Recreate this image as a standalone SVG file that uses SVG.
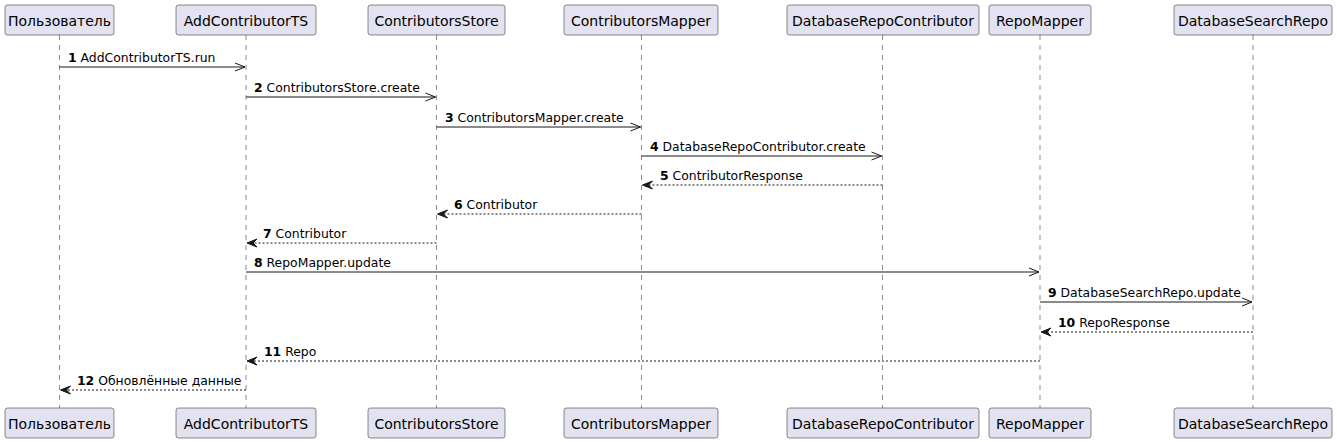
<svg xmlns="http://www.w3.org/2000/svg" width="1337" height="442" viewBox="0 0 1337 442">
<style>
.box{fill:#E2E2F0;stroke:#181818;stroke-width:0.5}
.bt{font-family:"DejaVu Sans","Liberation Sans",sans-serif;font-size:14px;fill:#000;text-anchor:middle}
.life{stroke:#181818;stroke-width:0.5;stroke-dasharray:5,5;fill:none}
.msg{stroke:#181818;stroke-width:1;fill:none}
.ret{stroke:#181818;stroke-width:1;stroke-dasharray:2,2;fill:none}
.ml{font-family:"DejaVu Sans","Liberation Sans",sans-serif;font-size:12.4px;fill:#000}
.num{font-weight:bold}
.oh{stroke:#181818;stroke-width:1;fill:none}
.fh{fill:#181818;stroke:#181818;stroke-width:1}
</style>
<rect width="1337" height="442" fill="#FFFFFF"/>
<g id="lifelines">
<line class="life" x1="59.5" y1="35" x2="59.5" y2="408"/>
<line class="life" x1="246" y1="35" x2="246" y2="408"/>
<line class="life" x1="436.5" y1="35" x2="436.5" y2="408"/>
<line class="life" x1="641.5" y1="35" x2="641.5" y2="408"/>
<line class="life" x1="882.5" y1="35" x2="882.5" y2="408"/>
<line class="life" x1="1040" y1="35" x2="1040" y2="408"/>
<line class="life" x1="1253" y1="35" x2="1253" y2="408"/>
</g>
<g id="p1">
<rect class="box" x="5" y="5" width="109" height="30" rx="2.5"/>
<text class="bt" x="59.5" y="26">Пользователь</text>
<rect class="box" x="5" y="408" width="109" height="30" rx="2.5"/>
<text class="bt" x="59.5" y="429">Пользователь</text>
</g>
<g id="p2">
<rect class="box" x="176" y="5" width="140" height="30" rx="2.5"/>
<text class="bt" x="246" y="26">AddContributorTS</text>
<rect class="box" x="176" y="408" width="140" height="30" rx="2.5"/>
<text class="bt" x="246" y="429">AddContributorTS</text>
</g>
<g id="p3">
<rect class="box" x="368" y="5" width="137" height="30" rx="2.5"/>
<text class="bt" x="436.5" y="26">ContributorsStore</text>
<rect class="box" x="368" y="408" width="137" height="30" rx="2.5"/>
<text class="bt" x="436.5" y="429">ContributorsStore</text>
</g>
<g id="p4">
<rect class="box" x="564" y="5" width="154" height="30" rx="2.5"/>
<text class="bt" x="641" y="26">ContributorsMapper</text>
<rect class="box" x="564" y="408" width="154" height="30" rx="2.5"/>
<text class="bt" x="641" y="429">ContributorsMapper</text>
</g>
<g id="p5">
<rect class="box" x="787" y="5" width="192" height="30" rx="2.5"/>
<text class="bt" x="883" y="26">DatabaseRepoContributor</text>
<rect class="box" x="787" y="408" width="192" height="30" rx="2.5"/>
<text class="bt" x="883" y="429">DatabaseRepoContributor</text>
</g>
<g id="p6">
<rect class="box" x="989" y="5" width="102" height="30" rx="2.5"/>
<text class="bt" x="1040" y="26">RepoMapper</text>
<rect class="box" x="989" y="408" width="102" height="30" rx="2.5"/>
<text class="bt" x="1040" y="429">RepoMapper</text>
</g>
<g id="p7">
<rect class="box" x="1174" y="5" width="158" height="30" rx="2.5"/>
<text class="bt" x="1253" y="26">DatabaseSearchRepo</text>
<rect class="box" x="1174" y="408" width="158" height="30" rx="2.5"/>
<text class="bt" x="1253" y="429">DatabaseSearchRepo</text>
</g>
<g id="connectors">
<line class="msg" x1="59.5" y1="67" x2="245" y2="67"/>
<polyline class="oh" points="235,63 245,67 235,71"/>
<text class="ml" x="68" y="62"><tspan class="num">1</tspan> AddContributorTS.run</text>
<line class="msg" x1="246" y1="97" x2="435.5" y2="97"/>
<polyline class="oh" points="425.5,93 435.5,97 425.5,101"/>
<text class="ml" x="254" y="92"><tspan class="num">2</tspan> ContributorsStore.create</text>
<line class="msg" x1="436.5" y1="127" x2="640.5" y2="127"/>
<polyline class="oh" points="630.5,123 640.5,127 630.5,131"/>
<text class="ml" x="445" y="122"><tspan class="num">3</tspan> ContributorsMapper.create</text>
<line class="msg" x1="641.5" y1="156" x2="881.5" y2="156"/>
<polyline class="oh" points="871.5,152 881.5,156 871.5,160"/>
<text class="ml" x="650" y="151"><tspan class="num">4</tspan> DatabaseRepoContributor.create</text>
<line class="ret" x1="882.5" y1="185" x2="643" y2="185"/>
<polygon class="fh" points="642.5,185 652.5,181 648.5,185 652.5,189"/>
<text class="ml" x="660" y="180"><tspan class="num">5</tspan> ContributorResponse</text>
<line class="ret" x1="641.5" y1="214" x2="438" y2="214"/>
<polygon class="fh" points="437.5,214 447.5,210 443.5,214 447.5,218"/>
<text class="ml" x="454" y="209"><tspan class="num">6</tspan> Contributor</text>
<line class="ret" x1="436.5" y1="243" x2="247.5" y2="243"/>
<polygon class="fh" points="247,243 257,239 253,243 257,247"/>
<text class="ml" x="263" y="238"><tspan class="num">7</tspan> Contributor</text>
<line class="msg" x1="246" y1="272" x2="1039" y2="272"/>
<polyline class="oh" points="1029,268 1039,272 1029,276"/>
<text class="ml" x="254" y="267"><tspan class="num">8</tspan> RepoMapper.update</text>
<line class="msg" x1="1040" y1="302" x2="1252" y2="302"/>
<polyline class="oh" points="1242,298 1252,302 1242,306"/>
<text class="ml" x="1048" y="297"><tspan class="num">9</tspan> DatabaseSearchRepo.update</text>
<line class="ret" x1="1253" y1="332" x2="1041.5" y2="332"/>
<polygon class="fh" points="1041,332 1051,328 1047,332 1051,336"/>
<text class="ml" x="1058" y="327"><tspan class="num">10</tspan> RepoResponse</text>
<line class="ret" x1="1040" y1="361" x2="247.5" y2="361"/>
<polygon class="fh" points="247,361 257,357 253,361 257,365"/>
<text class="ml" x="264" y="356"><tspan class="num">11</tspan> Repo</text>
<line class="ret" x1="246" y1="390" x2="61" y2="390"/>
<polygon class="fh" points="60.5,390 70.5,386 66.5,390 70.5,394"/>
<text class="ml" x="77" y="385"><tspan class="num">12</tspan> Обновлённые данные</text>
</g>
</svg>
